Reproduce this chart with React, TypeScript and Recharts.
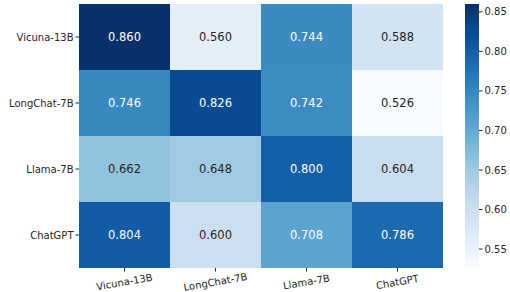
import React from 'react';
import { BarChart, Bar, XAxis, YAxis, Cell, LabelList } from 'recharts';

const rowLabels = ['Vicuna-13B', 'LongChat-7B', 'Llama-7B', 'ChatGPT'];
const colLabels = ['Vicuna-13B', 'LongChat-7B', 'Llama-7B', 'ChatGPT'];

const vicunaRow = [0.86, 0.56, 0.744, 0.588];
const longchatRow = [0.746, 0.826, 0.742, 0.526];
const llamaRow = [0.662, 0.648, 0.8, 0.604];
const chatgptRow = [0.804, 0.6, 0.708, 0.786];
const matrix = [vicunaRow, longchatRow, llamaRow, chatgptRow];

const colorbarTicks = [0.55, 0.6, 0.65, 0.7, 0.75, 0.8, 0.85];

const vmin = 0.526;
const vmax = 0.86;

// matplotlib "Blues"
const BLUES = [
  [247, 251, 255],
  [222, 235, 247],
  [198, 219, 239],
  [158, 202, 225],
  [107, 174, 214],
  [66, 146, 198],
  [33, 113, 181],
  [8, 81, 156],
  [8, 48, 107],
];

const blues = (v: number) => {
  const t = Math.min(1, Math.max(0, (v - vmin) / (vmax - vmin)));
  const p = t * (BLUES.length - 1);
  const i = Math.min(BLUES.length - 2, Math.floor(p));
  const f = p - i;
  const c = BLUES[i].map((a, k) => a + (BLUES[i + 1][k] - a) * f);
  return c;
};

const toHex = (c: number[]) => 'rgb(' + c.map((x) => Math.round(x)).join(',') + ')';

const luminance = (c: number[]) => {
  const l = c.map((x) => {
    const s = x / 255;
    return s <= 0.03928 ? s / 12.92 : Math.pow((s + 0.055) / 1.055, 2.4);
  });
  return 0.2126 * l[0] + 0.7152 * l[1] + 0.0722 * l[2];
};

const TEXT = '#262626';
const FONT = 'DejaVu Sans';

const chartData = colLabels.map((col, c) => {
  const d: any = { col };
  rowLabels.forEach((_, r) => {
    d[`r${r}`] = 1;
    d[`v${r}`] = matrix[r][c];
  });
  return d;
});

const renderValue = (props: any) => {
  const { x, y, width, height, value } = props;
  const col = blues(value);
  return (
    <text
      x={x + width / 2}
      y={y + height / 2}
      dy="0.36em"
      textAnchor="middle"
      fontSize={11.5}
      fontFamily={FONT}
      fill={luminance(col) > 0.408 ? TEXT : '#ffffff'}
    >
      {value.toFixed(3)}
    </text>
  );
};

const XTick = (props: any) => {
  const { x, y, payload } = props;
  return (
    <text
      x={x}
      y={y + 12}
      textAnchor="middle"
      fontSize={10}
      fontFamily={FONT}
      fill={TEXT}
      transform={`rotate(-10, ${x}, ${y + 9})`}
    >
      {payload.value}
    </text>
  );
};

const gradientStops = BLUES.map((c, i) => ({ offset: 100 - (i / (BLUES.length - 1)) * 100, color: toHex(c) }));

export default function App() {
  return (
    <div style={{ position: 'absolute', left: 0, top: 0, width: 510, height: 292, background: '#fff' }}>
      <div style={{ position: 'absolute', left: 0, top: 0 }}>
        <BarChart
          width={510}
          height={292}
          data={chartData}
          margin={{ top: 4, right: 67, bottom: 0, left: 0 }}
          barCategoryGap={0}
          barGap={0}
        >
          <XAxis
            dataKey="col"
            height={24}
            axisLine={false}
            tickLine={{ stroke: TEXT }}
            tickSize={3.5}
            tick={<XTick />}
            interval={0}
          />
          <YAxis
            type="number"
            domain={[0, 4]}
            reversed
            ticks={[0.5, 1.5, 2.5, 3.5]}
            allowDecimals
            width={79}
            axisLine={false}
            tickLine={{ stroke: TEXT }}
            tickSize={3.5}
            tickFormatter={(v: number) => rowLabels[Math.floor(v)]}
            tick={{ fontSize: 10, fontFamily: FONT, fill: TEXT }}
          />
          {rowLabels.map((_, r) => (
            <Bar key={r} dataKey={`r${r}`} stackId="a" isAnimationActive={false}>
              {colLabels.map((__, c) => (
                <Cell key={c} fill={toHex(blues(matrix[r][c]))} />
              ))}
              <LabelList dataKey={`v${r}`} content={renderValue} />
            </Bar>
          ))}
        </BarChart>
      </div>
      <div style={{ position: 'absolute', left: 0, top: 0 }}>
        <BarChart
          width={510}
          height={292}
          data={[{ name: 'cb', range: [vmin, vmax] }]}
          margin={{ top: 4, right: 0, bottom: 24, left: 465 }}
          barCategoryGap={0}
        >
          <defs>
            <linearGradient id="cbGrad" x1="0" y1="0" x2="0" y2="1">
              {gradientStops
                .slice()
                .reverse()
                .map((s, i) => (
                  <stop key={i} offset={`${s.offset}%`} stopColor={s.color} />
                ))}
            </linearGradient>
          </defs>
          <XAxis dataKey="name" hide />
          <YAxis
            orientation="right"
            type="number"
            domain={[vmin, vmax]}
            ticks={colorbarTicks}
            width={31}
            axisLine={false}
            tickLine={{ stroke: TEXT }}
            tickSize={3.5}
            tickFormatter={(v: number) => v.toFixed(2)}
            tick={{ fontSize: 10, fontFamily: FONT, fill: TEXT }}
          />
          <Bar dataKey="range" fill="url(#cbGrad)" isAnimationActive={false} />
        </BarChart>
      </div>
    </div>
  );
}
